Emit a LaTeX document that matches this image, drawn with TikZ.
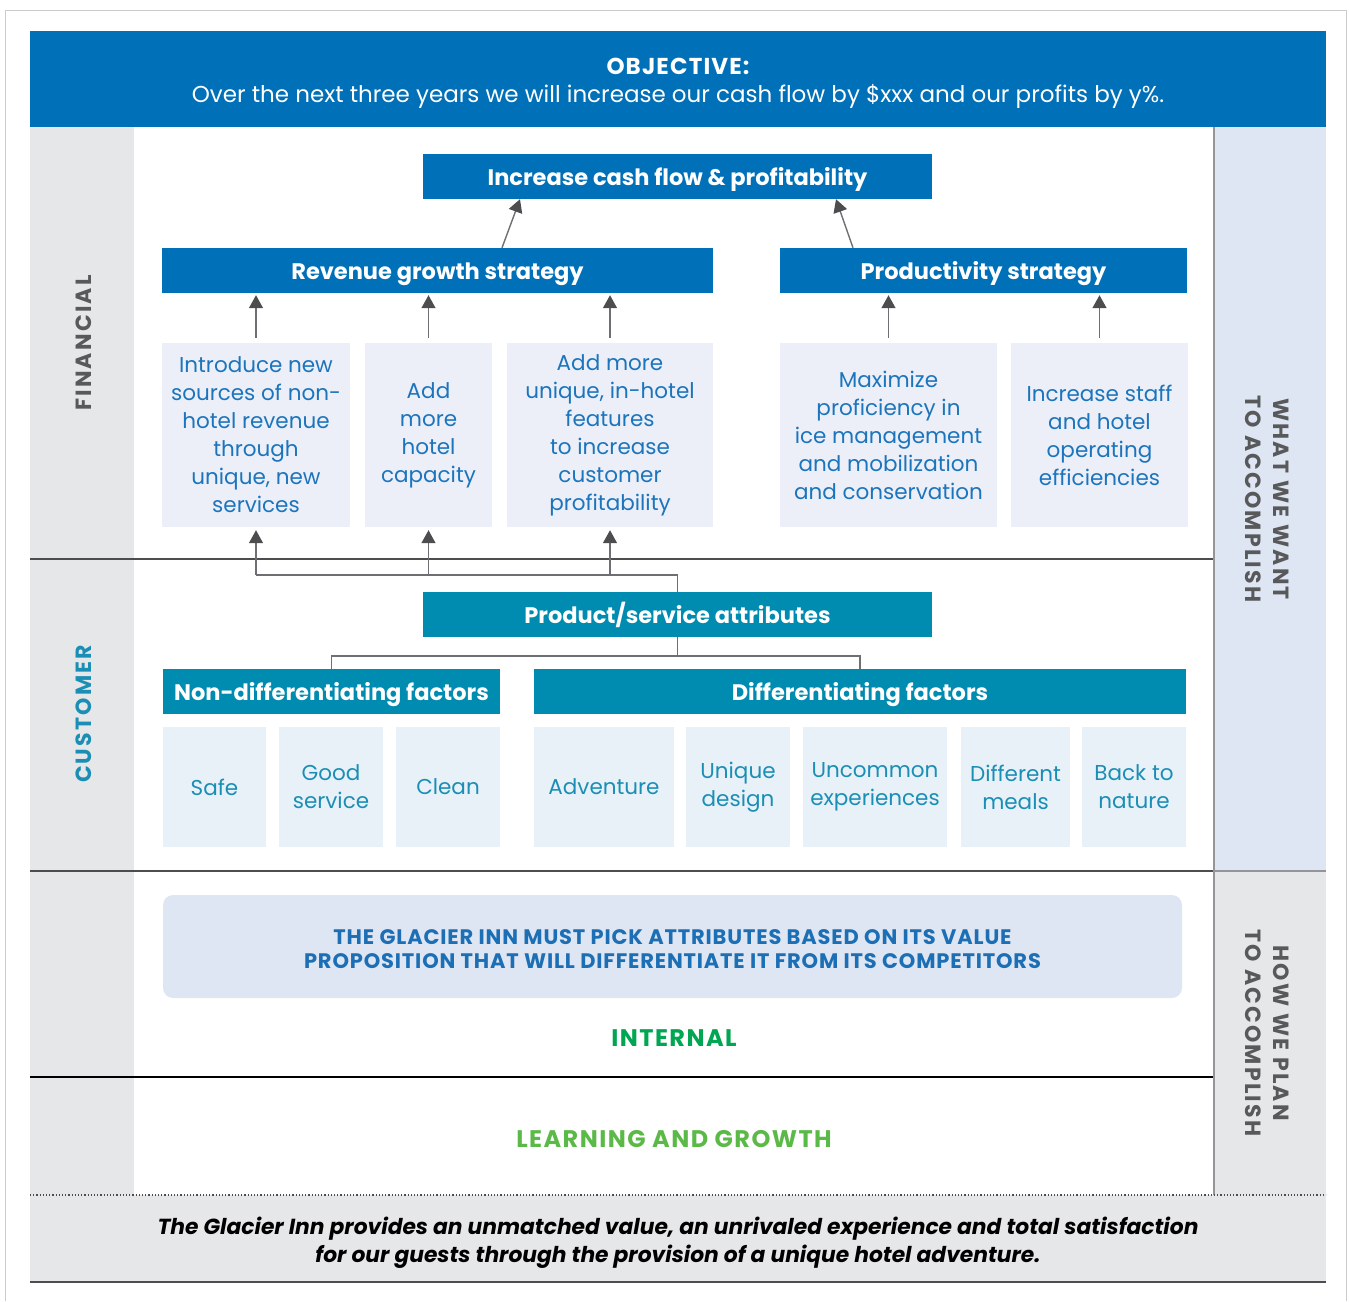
\documentclass[tikz,border=0pt]{standalone}
\usepackage{fontspec}
\setmainfont{Poppins}
\usetikzlibrary{arrows.meta}
\definecolor{objblue}{RGB}{0,112,184}
\definecolor{tealfill}{RGB}{0,139,176}
\definecolor{fintext}{RGB}{28,117,188}
\definecolor{finfill}{RGB}{236,239,248}
\definecolor{custfill}{RGB}{232,241,248}
\definecolor{custtext}{RGB}{27,142,181}
\definecolor{sidegray}{RGB}{230,231,232}
\definecolor{sideblue}{RGB}{223,230,243}
\definecolor{notetext}{RGB}{28,111,181}
\definecolor{darkline}{RGB}{77,77,79}
\definecolor{conngray}{RGB}{110,111,114}
\definecolor{labelgray}{RGB}{88,89,91}
\definecolor{divgray}{RGB}{147,149,152}
\definecolor{greenint}{RGB}{0,166,81}
\definecolor{greenlrn}{RGB}{91,185,71}

\begin{document}
\begin{tikzpicture}[x=1pt,y=-1pt,
    bluebox/.style={fill=objblue, text=white, font=\bfseries\fontsize{22.5}{26}\selectfont, minimum height=45pt, inner sep=0pt, text height=20pt, text depth=2pt},
    tealbox/.style={bluebox, fill=tealfill},
    finbox/.style={fill=finfill, text=fintext, align=center, font=\fontsize{21.5}{28}\selectfont, minimum height=184pt, inner sep=0pt},
    custbox/.style={fill=custfill, text=custtext, align=center, font=\fontsize{21.5}{28}\selectfont, minimum height=120pt, inner sep=0pt},
    arw/.style={draw=conngray, line width=1.4pt, -{Triangle[width=14pt,length=13pt,color=darkline]}},
    conn/.style={draw=conngray, line width=1.4pt},
    side/.style={font=\bfseries\fontsize{22}{28}\selectfont\addfontfeature{LetterSpace=10}, align=center}]
  %scorecard, Glacier Inn
  \useasboundingbox (0,0) rectangle (1349,1301);
  \draw[gray!40, line width=1pt] (5,1301) -- (5,10) -- (1346,10) -- (1346,1301);
  \fill[objblue] (30,31) rectangle (1326,127);
  \fill[sidegray] (30,127) rectangle (134,1195);
  \fill[sideblue] (1214,127) rectangle (1326,871);
  \fill[sidegray] (1214,871) rectangle (1326,1195);
  \fill[sidegray] (30,1195) rectangle (1326,1282);

  \node[text=white, font=\bfseries\fontsize{23}{26}\selectfont\addfontfeature{LetterSpace=5}] (objt) at (678,66) {OBJECTIVE:};
  \node[text=white, font=\fontsize{23}{26}\selectfont] (objs) at (678,96) {Over the next three years we will increase our cash flow by \$xxx and our profits by y\%.};

  \draw[line width=2pt, darkline] (30,559) -- (1214,559);
  \draw[line width=2pt, darkline] (30,871) -- (1214,871);
  \draw[line width=1.5pt, divgray] (1214,871) -- (1326,871);
  \draw[line width=1.2pt, black] (30,1077) -- (1214,1077);
  \draw[line width=2pt, divgray] (1214,127) -- (1214,1195);
  \draw[dotted, line width=1.2pt, darkline] (30,1195) -- (1326,1195);
  \draw[line width=2.5pt, darkline] (30,1282) -- (1326,1282);

  \node[side, text=labelgray, rotate=90] (fin) at (84,343) {FINANCIAL};
  \node[side, text=custtext, rotate=90] (cus) at (84,714) {CUSTOMER};
  \node[side, text=labelgray, rotate=-90] (want) at (1267,499) {WHAT WE WANT\\TO ACCOMPLISH};
  \node[side, text=labelgray, rotate=-90] (plan) at (1267,1033) {HOW WE PLAN\\TO ACCOMPLISH};

  % financial
  \node[bluebox, minimum width=509pt] (cash) at (677.5,176.5) {Increase cash flow \& profitability};
  \node[bluebox, minimum width=551pt] (rev) at (437.5,270.5) {Revenue growth strategy};
  \node[bluebox, minimum width=407pt] (prod) at (983.5,270.5) {Productivity strategy};
  \node[finbox, minimum width=188pt] (f1) at (256,435) {Introduce new\\sources of non-\\hotel revenue\\through\\unique, new\\services};
  \node[finbox, minimum width=127pt] (f2) at (428.5,435) {Add\\more\\hotel\\capacity};
  \node[finbox, minimum width=206pt] (f3) at (610,435) {Add more\\unique, in-hotel\\features\\to increase\\customer\\profitability};
  \node[finbox, minimum width=217pt] (f4) at (888.5,435) {Maximize\\proficiency in\\ice management\\and mobilization\\and conservation};
  \node[finbox, minimum width=177pt] (f5) at (1099.5,435) {Increase staff\\and hotel\\operating\\efficiencies};
  \draw[arw] ([xshift=64.5pt]rev.north) -- ([xshift=-157.5pt]cash.south);
  \draw[arw] ([xshift=-130.5pt]prod.north) -- ([xshift=158.5pt]cash.south);
  \foreach \b in {f1,f2,f3}
    \draw[arw, shorten <=5pt, shorten >=2pt] (\b.north) -- (\b.north |- rev.south);
  \foreach \b in {f4,f5}
    \draw[arw, shorten <=5pt, shorten >=2pt] (\b.north) -- (\b.north |- prod.south);

  % customer
  \node[tealbox, minimum width=509pt] (psa) at (677.5,614.5) {Product/service attributes};
  \node[tealbox, minimum width=337pt] (nd) at (331.5,691.5) {Non-differentiating factors};
  \node[tealbox, minimum width=652pt] (df) at (860,691.5) {Differentiating factors};
  \foreach \n/\x/\w/\t in {c1/214.5/103/Safe, c2/331/104/Good\\service, c3/448/104/Clean,
      c4/604/140/Adventure, c5/738/104/Unique\\design, c6/875/144/Uncommon\\experiences,
      c7/1015.5/109/Different\\meals, c8/1134/104/Back to\\nature}
    \node[custbox, minimum width=\w pt] (\n) at (\x,787) {\t};
  \coordinate (hub) at (677.5,575);
  \draw[conn] (psa.north) -- (hub) -- (f1.south |- hub);
  \foreach \b in {f1,f2,f3}
    \draw[arw, shorten >=3pt] (\b.south |- hub) -- (\b.south);
  \coordinate (split) at (677.5,656);
  \draw[conn] (psa.south) -- (split);
  \draw[conn] (nd.north) |- (split) -| (df.north);

  % internal, learning
  \node[fill=sideblue, rounded corners=10pt, minimum width=1019pt, minimum height=103pt, inner sep=0pt] (note) at (672.5,946.5) {};
  \node[align=center, text=notetext, font=\bfseries\fontsize{21}{24}\selectfont\addfontfeature{LetterSpace=4}] (notetxt) at (672.5,949.5)
    {THE GLACIER INN MUST PICK ATTRIBUTES BASED ON ITS VALUE\\PROPOSITION THAT WILL DIFFERENTIATE IT FROM ITS COMPETITORS};
  \node[text=greenint, font=\bfseries\fontsize{24}{26}\selectfont\addfontfeature{LetterSpace=6}] (int) at (674,1038) {INTERNAL};
  \node[text=greenlrn, font=\bfseries\fontsize{24}{26}\selectfont\addfontfeature{LetterSpace=6}] (lrn) at (674,1139) {LEARNING AND GROWTH};
  \node[align=center, font=\bfseries\itshape\fontsize{21.8}{28}\selectfont] (mission) at (678,1243)
    {The Glacier Inn provides an unmatched value, an unrivaled experience and total satisfaction\\for our guests through the provision of a unique hotel adventure.};
\end{tikzpicture}
\end{document}
